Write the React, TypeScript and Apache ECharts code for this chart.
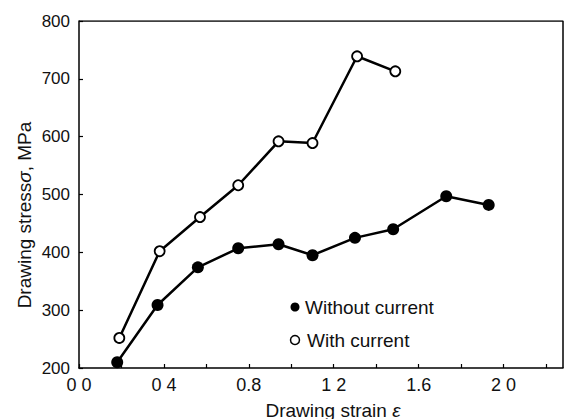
import React, { useEffect, useRef } from "react";
import * as echarts from "echarts";

const withoutX = [0.18, 0.37, 0.56, 0.75, 0.94, 1.1, 1.3, 1.48, 1.73, 1.93];
const withoutY = [210, 309, 374, 407, 414, 395, 425, 440, 497, 482];
const withX = [0.19, 0.38, 0.57, 0.75, 0.94, 1.1, 1.31, 1.49];
const withY = [252, 402, 461, 516, 592, 589, 739, 713];
const xTickLabels: Record<string, string> = {
  "0.0": "0 0",
  "0.4": "0 4",
  "0.8": "0.8",
  "1.2": "1 2",
  "1.6": "1.6",
  "2.0": "2 0",
};
const seriesNames = ["Without current", "With current"];
const xTitle = "Drawing strain {i|ε}";
const yTitle = "Drawing stress{i|σ}, MPa";

export default function App() {
  const ref = useRef<HTMLDivElement>(null);
  useEffect(() => {
    if (!ref.current) return;
    const chart = echarts.init(ref.current, null, { renderer: "svg" });
    const font = "'Liberation Sans', Arial, sans-serif";
    const rich = { i: { fontStyle: "italic", fontFamily: font, fontSize: 19, fill: "#111" } };
    chart.setOption({
      animation: false,
      backgroundColor: "#ffffff",
      textStyle: { fontFamily: font, color: "#111" },
      grid: { left: 79, right: 2, top: 21, bottom: 51, containLabel: false },
      xAxis: {
        type: "value",
        min: 0,
        max: 2.28,
        interval: 0.2,
        axisLine: { onZero: false, lineStyle: { color: "#000", width: 1.5 } },
        axisTick: { inside: true, length: 4, lineStyle: { color: "#000", width: 1.2 } },
        axisLabel: {
          fontFamily: font,
          fontSize: 18,
          color: "#111",
          margin: 8,
          showMaxLabel: false,
          formatter: (v: number) => xTickLabels[v.toFixed(1)] ?? "",
        },
        splitLine: { show: false },
      },
      yAxis: {
        type: "value",
        min: 200,
        max: 800,
        interval: 100,
        axisLine: { show: true, lineStyle: { color: "#000", width: 1.5 } },
        axisTick: { inside: true, length: 4, lineStyle: { color: "#000", width: 1.2 } },
        axisLabel: { fontFamily: font, fontSize: 17, color: "#111", margin: 9 },
        splitLine: { show: false },
      },
      graphic: [
        {
          type: "text",
          x: 24,
          y: 215,
          rotation: Math.PI / 2,
          style: {
            text: yTitle,
            rich,
            fontFamily: font,
            fontSize: 19,
            fill: "#111",
            align: "center",
            verticalAlign: "middle",
          },
        },
        {
          type: "text",
          x: 333,
          y: 410,
          style: {
            text: xTitle,
            rich,
            fontFamily: font,
            fontSize: 19,
            fill: "#111",
            align: "center",
            verticalAlign: "middle",
          },
        },
        {
          type: "circle",
          shape: { cx: 295, cy: 307, r: 4.5 },
          style: { fill: "#000", stroke: "#000", lineWidth: 0 },
        },
        {
          type: "text",
          x: 305,
          y: 307,
          style: {
            text: seriesNames[0],
            fontFamily: font,
            fontSize: 19,
            fill: "#111",
            align: "left",
            verticalAlign: "middle",
          },
        },
        {
          type: "circle",
          shape: { cx: 295, cy: 340, r: 4.5 },
          style: { fill: "#fff", stroke: "#000", lineWidth: 1.5 },
        },
        {
          type: "text",
          x: 307,
          y: 340,
          style: {
            text: seriesNames[1],
            fontFamily: font,
            fontSize: 19,
            fill: "#111",
            align: "left",
            verticalAlign: "middle",
          },
        },
      ],
      series: [
        {
          name: seriesNames[0],
          type: "line",
          data: withoutX.map((x, i) => [x, withoutY[i]]),
          symbol: "circle",
          symbolSize: 12,
          lineStyle: { color: "#000", width: 2.5 },
          itemStyle: { color: "#000", borderColor: "#000", borderWidth: 0 },
          z: 3,
        },
        {
          name: seriesNames[1],
          type: "line",
          data: withX.map((x, i) => [x, withY[i]]),
          symbol: "circle",
          symbolSize: 10,
          lineStyle: { color: "#000", width: 2.5 },
          itemStyle: { color: "#fff", borderColor: "#000", borderWidth: 1.8 },
          z: 4,
        },
        {
          type: "line",
          data: [[0, 800], [2.28, 800], [2.28, 200]],
          symbol: "none",
          silent: true,
          lineStyle: { color: "#000", width: 1.5 },
          z: 1,
        },
      ],
    });
    return () => chart.dispose();
  }, []);
  return (
    <div
      ref={ref}
      style={{ position: "absolute", left: 0, top: 0, width: 565, height: 419 }}
    />
  );
}
